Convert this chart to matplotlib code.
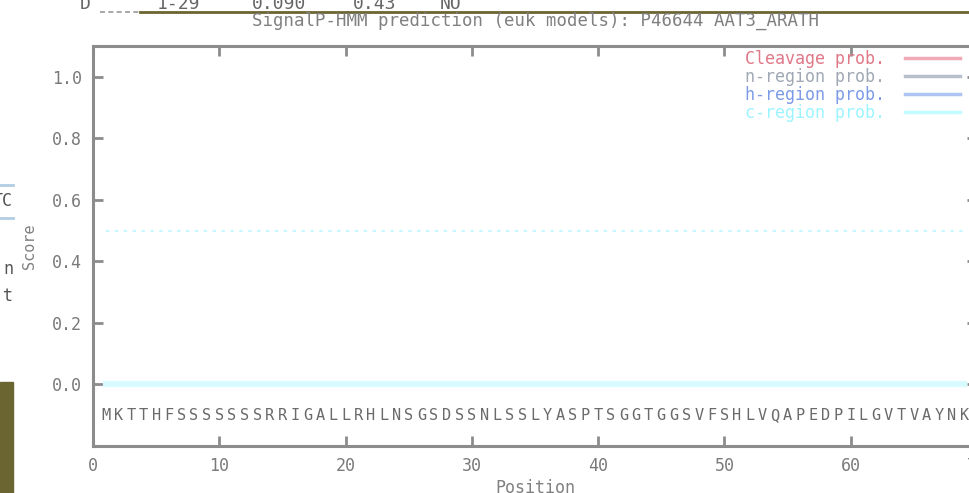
import numpy as np
import matplotlib
matplotlib.use('Agg')
import matplotlib.pyplot as plt
from matplotlib.lines import Line2D
from matplotlib.patches import Rectangle

# residues shown under the curves
sequence = 'MKTTHFSSSSSSSRRIGALLRHLNSGSDSSNLSSLYASPTSGGTGGSVFSHLVQAPEDPILGVTVAYNK'
positions = list(range(1, len(sequence) + 1))

# all four probabilities read as zero over the visible part
cleavage = [0.0] * len(sequence)
n_region = [0.0] * len(sequence)
h_region = [0.0] * len(sequence)
c_region = [0.0] * len(sequence)
threshold = 0.5

series_labels = ['Cleavage prob.', 'n-region prob.', 'h-region prob.', 'c-region prob.']
x_ticks = [0, 10, 20, 30, 40, 50, 60, 70]
y_ticks = [0.0, 0.2, 0.4, 0.6, 0.8, 1.0]
title = 'SignalP-HMM prediction (euk models): P46644 AAT3_ARATH'
summary_row = ['D', '1-29', '0.090', '0.43', 'NO']

W, H = 970, 493
mono = 'DejaVu Sans Mono'
grey = '#8c8c8c'
olive = '#6b6532'

fig = plt.figure(figsize=(W / 100, H / 100), dpi=100)
ax = fig.add_axes([93 / W, 1 - 446 / H, (977 - 93) / W, (446 - 46) / H])

line_cols = ['#f0aab8', '#b8c0cc', '#aec4f2', '#c4fbff']
text_cols = ['#e07888', '#a0a8b4', '#7c9ae6', '#9cf4ff']
for vals, col, lab in zip([cleavage, n_region, h_region], line_cols[:3], series_labels[:3]):
    ax.plot(positions, vals, color=col, lw=2, label=lab)
ax.plot(positions, c_region, color='#d8fbff', lw=4.5, label=series_labels[3])
ax.plot(positions, [threshold] * len(positions), color='#c8f8ff', lw=1.6,
        linestyle=(0, (1.5, 2.5)))

for p, r in zip(positions, sequence):
    ax.text(p, -0.1, r, family=mono, fontsize=11, color='#6a6a6a',
            ha='center', va='center')

ax.set_xlim(0, 69.6)
ax.set_ylim(-0.2, 1.1)
ax.set_xticks(x_ticks)
ax.set_yticks(y_ticks)
ax.set_xticklabels([str(t) for t in x_ticks])
ax.set_yticklabels(['%.1f' % t for t in y_ticks])
for lbl in ax.get_xticklabels() + ax.get_yticklabels():
    lbl.set_family(mono)
    lbl.set_fontsize(12)
    lbl.set_color('#7a7a7a')
ax.tick_params(direction='in', length=7, width=2, color=grey,
               top=True, right=True, pad=8)
for s in ax.spines.values():
    s.set_color(grey)
    s.set_linewidth(2.2)

leg = ax.legend(loc='upper right', bbox_to_anchor=(0.981, 0.99), frameon=False,
                markerfirst=False, prop={'family': mono, 'size': 12},
                labelcolor=text_cols, handlelength=3.3, handletextpad=1.2,
                labelspacing=0.0, borderpad=0, borderaxespad=0)
for h, c in zip(leg.legend_handles, line_cols):
    h.set_linewidth(2.5)
    h.set_color(c)

fig.text(535 / W, 1 - 21 / H, title, family=mono, fontsize=12.5, color='#808080',
         ha='center', va='center')
fig.text(535 / W, 1 - 488 / H, 'Position', family=mono, fontsize=12, color='#808080',
         ha='center', va='center')
fig.text(30 / W, 1 - 246 / H, 'Score', family=mono, fontsize=11, color='#808080',
         ha='center', va='center', rotation=90)

# surrounding page fragments
fig.add_artist(Line2D([140 / W, 1], [1 - 12 / H] * 2, color=olive, lw=2))
fig.add_artist(Line2D([100 / W, 140 / W], [1 - 12 / H] * 2, color='#999999', lw=1.2,
                      linestyle=(0, (3, 2))))
for txt, x in zip(summary_row, [80, 157, 252, 353, 440]):
    fig.text(x / W, 1 - 4 / H, txt, family=mono, fontsize=13, color='#666666',
             ha='left', va='center')
fig.add_artist(Rectangle((0, 0), 13 / W, (493 - 382) / H, color=olive,
                         transform=fig.transFigure))
for y in [185, 218]:
    fig.add_artist(Line2D([0, 13 / W], [1 - y / H] * 2, color='#b3cde3', lw=2))
fig.text(13 / W, 1 - 201 / H, 'TC', family=mono, fontsize=12, color='#555555',
         ha='right', va='center')
fig.text(13 / W, 1 - 269 / H, 'n', family=mono, fontsize=12, color='#555555',
         ha='right', va='center')
fig.text(13 / W, 1 - 296 / H, 't', family=mono, fontsize=12, color='#555555',
         ha='right', va='center')

fig.savefig('out.png', dpi=100)
